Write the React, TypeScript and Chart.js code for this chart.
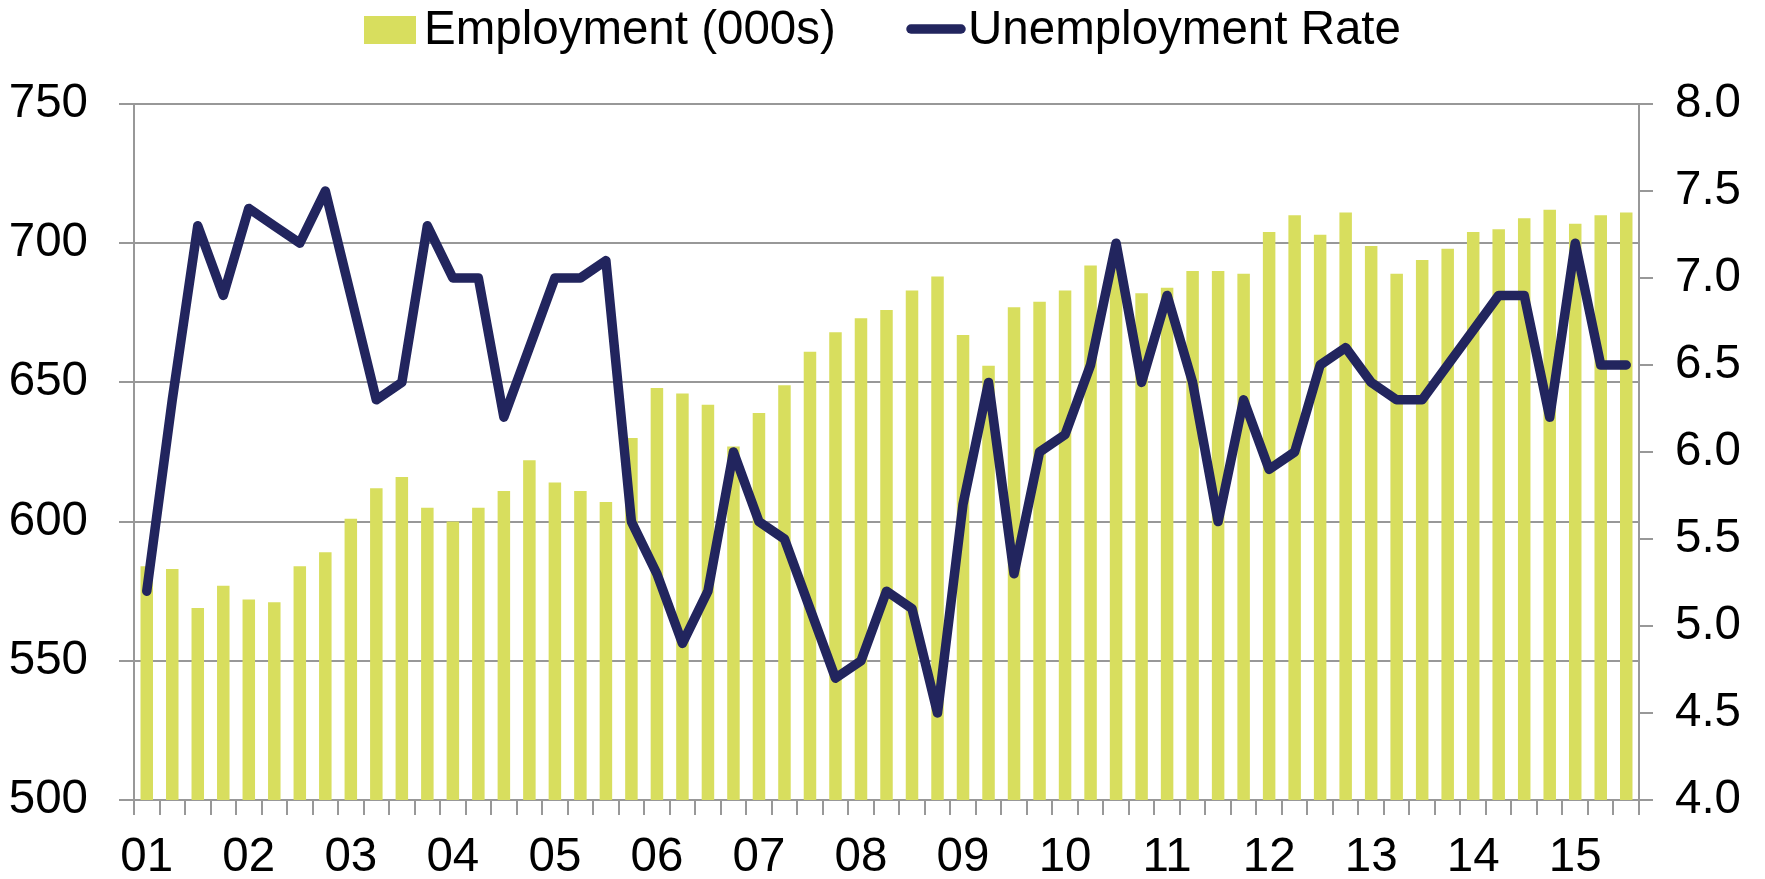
import React, { useEffect, useRef } from 'react';
import { Chart, registerables } from 'chart.js';

Chart.register(...registerables);

// ---------- data ----------
const QUARTERS = [
  '2001Q1', '2001Q2', '2001Q3', '2001Q4',
  '2002Q1', '2002Q2', '2002Q3', '2002Q4',
  '2003Q1', '2003Q2', '2003Q3', '2003Q4',
  '2004Q1', '2004Q2', '2004Q3', '2004Q4',
  '2005Q1', '2005Q2', '2005Q3', '2005Q4',
  '2006Q1', '2006Q2', '2006Q3', '2006Q4',
  '2007Q1', '2007Q2', '2007Q3', '2007Q4',
  '2008Q1', '2008Q2', '2008Q3', '2008Q4',
  '2009Q1', '2009Q2', '2009Q3', '2009Q4',
  '2010Q1', '2010Q2', '2010Q3', '2010Q4',
  '2011Q1', '2011Q2', '2011Q3', '2011Q4',
  '2012Q1', '2012Q2', '2012Q3', '2012Q4',
  '2013Q1', '2013Q2', '2013Q3', '2013Q4',
  '2014Q1', '2014Q2', '2014Q3', '2014Q4',
  '2015Q1', '2015Q2', '2015Q3',
];

const YEAR_TICKS = ['01', '02', '03', '04', '05', '06', '07', '08', '09', '10', '11', '12', '13', '14', '15'];

const EMPLOYMENT = [
  584, 583, 569, 577,
  572, 571, 584, 589,
  601, 612, 616, 605,
  600, 605, 611, 622,
  614, 611, 607, 630,
  648, 646, 642, 627,
  639, 649, 661, 668,
  673, 676, 683, 688,
  667, 656, 677, 679,
  683, 692, 694, 682,
  684, 690, 690, 689,
  704, 710, 703, 711,
  699, 689, 694, 698,
  704, 705, 709, 712,
  707, 710, 711,
];

const UNEMPLOYMENT_RATE = [
  5.2, 6.3, 7.3, 6.9,
  7.4, 7.3, 7.2, 7.5,
  6.9, 6.3, 6.4, 7.3,
  7.0, 7.0, 6.2, 6.6,
  7.0, 7.0, 7.1, 5.6,
  5.3, 4.9, 5.2, 6.0,
  5.6, 5.5, 5.1, 4.7,
  4.8, 5.2, 5.1, 4.5,
  5.7, 6.4, 5.3, 6.0,
  6.1, 6.5, 7.2, 6.4,
  6.9, 6.4, 5.6, 6.3,
  5.9, 6.0, 6.5, 6.6,
  6.4, 6.3, 6.3, 6.5,
  6.7, 6.9, 6.9, 6.2,
  7.2, 6.5, 6.5,
];

const SERIES_LABELS = ['Employment (000s)', 'Unemployment Rate'];

// ---------- style ----------
const FONT = "'Liberation Sans', Arial, Helvetica, sans-serif";
const FONT_SIZE = 47.5;
const BAR_COLOR = '#D8DE5E';
const LINE_COLOR = '#22255E';
const GRID_COLOR = '#989898';
const TEXT_COLOR = '#000000';

const W = 1749;
const H = 863;

const legendPlugin = {
  id: 'refLegend',
  afterDraw(chart: any) {
    const ctx = chart.ctx as CanvasRenderingContext2D;
    const ds = chart.data.datasets;
    ctx.save();
    ctx.font = `${FONT_SIZE}px ${FONT}`;
    ctx.textAlign = 'left';
    ctx.textBaseline = 'alphabetic';
    // bar item
    ctx.fillStyle = ds[0].backgroundColor;
    ctx.fillRect(356, 8, 52, 28);
    ctx.fillStyle = TEXT_COLOR;
    ctx.fillText(ds[0].label, 416, 36);
    // line item
    ctx.strokeStyle = ds[1].borderColor;
    ctx.lineWidth = 9.5;
    ctx.lineCap = 'round';
    ctx.beginPath();
    ctx.moveTo(903, 21);
    ctx.lineTo(953, 21);
    ctx.stroke();
    ctx.fillStyle = TEXT_COLOR;
    ctx.fillText(ds[1].label, 960, 36);
    ctx.restore();
  },
};

export default function App() {
  const canvasRef = useRef<HTMLCanvasElement | null>(null);

  useEffect(() => {
    if (!canvasRef.current) return;
    const tickFont = { family: FONT, size: FONT_SIZE };
    const chart = new Chart(canvasRef.current, {
      type: 'bar',
      data: {
        labels: QUARTERS,
        datasets: [
          {
            type: 'bar',
            label: SERIES_LABELS[0],
            data: EMPLOYMENT,
            backgroundColor: BAR_COLOR,
            borderWidth: 0,
            barPercentage: 0.49,
            categoryPercentage: 1.0,
            yAxisID: 'y',
            order: 1,
          },
          {
            type: 'line',
            label: SERIES_LABELS[1],
            data: UNEMPLOYMENT_RATE,
            borderColor: LINE_COLOR,
            backgroundColor: LINE_COLOR,
            borderWidth: 9.5,
            pointRadius: 0,
            pointHoverRadius: 0,
            tension: 0,
            borderJoinStyle: 'round',
            borderCapStyle: 'round',
            fill: false,
            yAxisID: 'y1',
            order: 0,
          },
        ],
      } as any,
      options: {
        responsive: true,
        maintainAspectRatio: false,
        animation: false,
        devicePixelRatio: 1,
        layout: { padding: { top: 96, left: 0, right: 0, bottom: 0 } },
        plugins: {
          legend: { display: false },
          tooltip: { enabled: false },
          title: { display: false },
        },
        scales: {
          x: {
            type: 'category',
            offset: true,
            grid: {
              display: true,
              drawOnChartArea: false,
              drawTicks: true,
              tickLength: 15,
              offset: true,
              color: GRID_COLOR,
              lineWidth: 2,
            },
            border: { display: true, color: GRID_COLOR, width: 2 },
            ticks: {
              autoSkip: false,
              maxRotation: 0,
              minRotation: 0,
              padding: 14,
              color: TEXT_COLOR,
              font: tickFont,
              callback: (_v: any, i: number) => {
                const q = QUARTERS[i];
                if (q && q.endsWith('Q1')) return YEAR_TICKS[Math.floor(i / 4)];
                return '';
              },
            },
            afterFit: (s: any) => {
              s.height = 71;
            },
          },
          y: {
            type: 'linear',
            position: 'left',
            min: 500,
            max: 750,
            grid: {
              color: GRID_COLOR,
              lineWidth: 2,
              drawTicks: true,
              tickLength: 15,
            },
            border: { display: true, color: GRID_COLOR, width: 2 },
            ticks: {
              stepSize: 50,
              padding: 31,
              color: TEXT_COLOR,
              font: tickFont,
            },
            afterFit: (s: any) => {
              s.width = 126;
            },
          },
          y1: {
            type: 'linear',
            position: 'right',
            min: 4,
            max: 8,
            grid: {
              drawOnChartArea: false,
              drawTicks: true,
              tickLength: 14,
              color: GRID_COLOR,
              lineWidth: 2,
            },
            border: { display: true, color: GRID_COLOR, width: 2 },
            ticks: {
              stepSize: 0.5,
              padding: 22,
              color: TEXT_COLOR,
              font: tickFont,
              callback: (v: any) => Number(v).toFixed(1),
            },
            afterFit: (s: any) => {
              s.width = 118;
            },
          },
        },
      } as any,
      plugins: [legendPlugin],
    });
    return () => chart.destroy();
  }, []);

  return (
    <div style={{ position: 'relative', width: W, height: H }}>
      <canvas ref={canvasRef} />
    </div>
  );
}
